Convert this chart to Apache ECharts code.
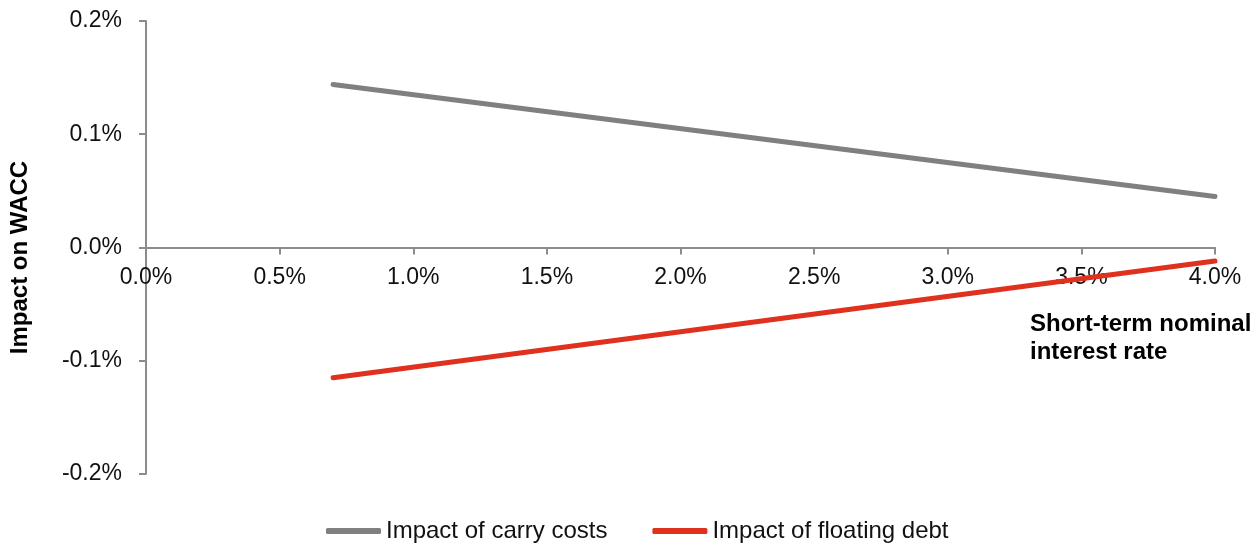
<!DOCTYPE html>
<html>
<head>
<meta charset="utf-8">
<script src="https://cdn.jsdelivr.net/npm/echarts@6/dist/echarts.min.js"></script>
<style>
  html, body { margin: 0; padding: 0; background: #fff; }
  #chart { width: 1260px; height: 547px; }
</style>
</head>
<body>
<div id="chart"></div>
<script>
// Short-term nominal interest rate (%) at each end of the modelled range
const rates = [0.7, 4.0];
// Impact on WACC (percentage points)
const carryCosts = [0.144, 0.045];
const floatingDebt = [-0.115, -0.012];
const seriesNames = ['Impact of carry costs', 'Impact of floating debt'];
const xAxisTitle = 'Short-term nominal\ninterest rate';
const yAxisTitle = 'Impact on WACC';

const FONT = 'Liberation Sans, Arial, sans-serif';
const AXIS_GREY = '#8c8c8c';

const GRID = { left: 146, right: 45, top: 21, bottom: 73 };
const HEIGHT = 547;

const toPairs = (xs, ys) => xs.map((x, i) => [x, ys[i]]);
const pct = v => v.toFixed(1) + '%';

const chart = echarts.init(document.getElementById('chart'), null, { renderer: 'canvas' });

// The x-axis line sits on y = 0; its labels are pulled up to hang just below that line.
const plotBottom = HEIGHT - GRID.bottom;
const zeroY = GRID.top + (plotBottom - GRID.top) / 2;
const xLabelMargin = 19 - (plotBottom - zeroY);

chart.setOption({
  animation: false,
  backgroundColor: '#fff',
  grid: Object.assign({ containLabel: false }, GRID),
  xAxis: {
    type: 'value',
    min: 0, max: 4, interval: 0.5,
    axisLine: { onZero: true, lineStyle: { color: AXIS_GREY, width: 2 } },
    axisTick: { show: true, inside: false, length: 7, lineStyle: { color: AXIS_GREY, width: 2 } },
    splitLine: { show: false },
    axisLabel: { formatter: pct, color: '#111', fontFamily: FONT, fontSize: 23, margin: xLabelMargin }
  },
  yAxis: {
    type: 'value',
    min: -0.2, max: 0.2, interval: 0.1,
    name: yAxisTitle,
    nameLocation: 'middle',
    nameGap: 114,
    nameRotate: 90,
    nameTextStyle: { color: '#000', fontFamily: FONT, fontSize: 24, fontWeight: 'bold', padding: [0, 20, 0, 0] },
    axisLine: { show: true, onZero: false, lineStyle: { color: AXIS_GREY, width: 2 } },
    axisTick: { show: true, inside: false, length: 7, lineStyle: { color: AXIS_GREY, width: 2 } },
    splitLine: { show: false },
    axisLabel: { formatter: pct, color: '#111', fontFamily: FONT, fontSize: 23, margin: 24 }
  },
  legend: {
    top: 514,
    left: 321,
    icon: 'roundRect',
    itemWidth: 55,
    itemHeight: 6,
    itemGap: 45,
    itemTextGap: 5,
    textStyle: { color: '#111', fontFamily: FONT, fontSize: 24 },
    data: seriesNames
  },
  graphic: [{
    type: 'text',
    left: 1030,
    top: 310,
    style: {
      text: xAxisTitle,
      fill: '#000',
      font: 'bold 24px ' + FONT,
      lineHeight: 28
    }
  }],
  series: [
    {
      name: seriesNames[0],
      type: 'line',
      data: toPairs(rates, carryCosts),
      symbol: 'none',
      itemStyle: { color: '#808080' },
      lineStyle: { color: '#808080', width: 5, cap: 'round' },
      z: 3
    },
    {
      name: seriesNames[1],
      type: 'line',
      data: toPairs(rates, floatingDebt),
      symbol: 'none',
      itemStyle: { color: '#e0301e' },
      lineStyle: { color: '#e0301e', width: 5, cap: 'round' },
      z: 3
    }
  ]
});
</script>
</body>
</html>
